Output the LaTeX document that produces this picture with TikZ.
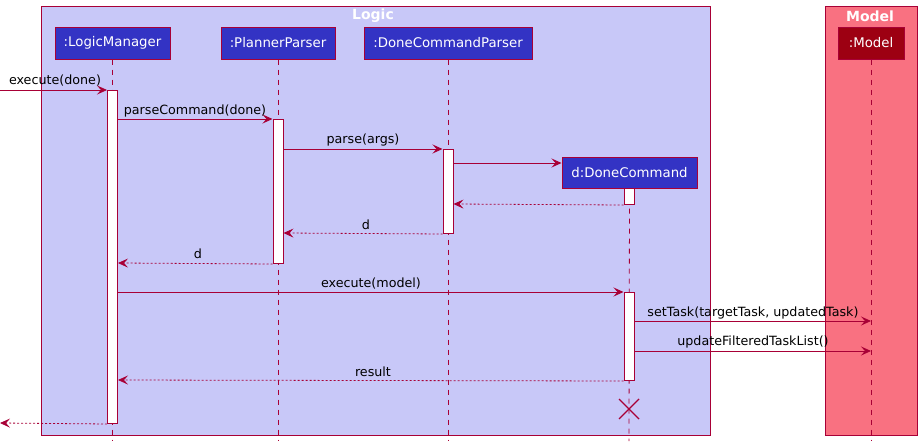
\documentclass[tikz,border=0pt]{standalone}
\usepackage{fontspec}
\setmainfont{DejaVu Sans}
\usetikzlibrary{arrows.meta,calc}
\definecolor{crim}{HTML}{A80036}
\definecolor{logicbg}{HTML}{C8C8F8}
\definecolor{modelbg}{HTML}{F97181}
\definecolor{partblue}{HTML}{3333C4}
\definecolor{partred}{HTML}{9D0012}
\begin{document}
\begin{tikzpicture}[x=1pt,y=-1pt,
  frame/.style={draw=crim, line width=1pt},
  frametitle/.style={text=white, font=\fontsize{14}{16}\selectfont\bfseries, inner sep=0pt},
  part/.style={draw=crim, line width=1pt, fill=partblue, text=white,
    font=\fontsize{13.3}{15}\selectfont, minimum height=32pt, inner sep=0pt},
  lifeline/.style={draw=crim, line width=0.8pt, dash pattern=on 5pt off 5pt},
  act/.style={draw=crim, line width=1pt, fill=white, minimum width=10pt, inner sep=0pt, anchor=north},
  msg/.style={draw=crim, line width=0.8pt, -{Stealth[length=10pt,width=9pt,inset=4pt]}},
  ret/.style={msg, dash pattern=on 2pt off 2pt},
  lbl/.style={font=\fontsize{12.7}{14}\selectfont, text=black, inner sep=0pt}
]
\useasboundingbox (0,0) rectangle (922,447);
% frames
\draw[frame, fill=logicbg] (41,6) rectangle (710,435);
\draw[frame, fill=modelbg] (825,6) rectangle (917,435);
\node[frametitle] (tlogic) at (373,16) {Logic};
\node[frametitle] (tmodel) at (870,16) {Model};
% participants
\node[part, minimum width=115pt] (lm) at (112.5,43) {:LogicManager};
\node[part, minimum width=114pt] (pp) at (278,43) {:PlannerParser};
\node[part, minimum width=168pt] (dcp) at (448,43) {:DoneCommandParser};
\node[part, minimum width=66pt, fill=partred] (mo) at (871,43) {:Model};
% lifeline ends
\coordinate (lmEnd) at (112.5,441);
\coordinate (ppEnd) at (278,441);
\coordinate (dcpEnd) at (448,441);
\coordinate (dcEnd) at (629,441);
\coordinate (moEnd) at (871,441);
\draw[lifeline] (lm.south) -- (lmEnd);
\draw[lifeline] (pp.south) -- (ppEnd);
\draw[lifeline] (dcp.south) -- (dcpEnd);
\draw[lifeline] (mo.south) -- (moEnd);
% created participant
\node[part, minimum width=135pt, minimum height=31pt] (dc) at (629.5,172.5) {d:DoneCommand};
\draw[lifeline] (dc.south) -- (dcEnd);
% activations
\node[act, minimum height=333pt] (alm) at (112.5,90) {};
\node[act, minimum height=144pt] (app) at (278,119) {};
\node[act, minimum height=84pt] (adcp) at (448,149) {};
\node[act, minimum height=16pt] (adc1) at (629,188) {};
\node[act, minimum height=88pt] (adc2) at (629,292) {};
% destroy
\coordinate (xc) at (629,409);
\draw[crim, line width=1.4pt] ($(xc)+(-10,-10)$) -- ($(xc)+(10,10)$);
\draw[crim, line width=1.4pt] ($(xc)+(-10,10)$) -- ($(xc)+(10,-10)$);
% free ends
\coordinate (inStart) at (0,90);
\coordinate (outEnd) at (0,423);
% messages
\draw[msg] (inStart) -- (alm.north west);
\node[lbl] (l1) at (55,81) {execute(done)};
\draw[msg] (alm.east |- 0,119) -- (app.north west);
\node[lbl] (l2) at (195,111) {parseCommand(done)};
\draw[msg] (app.east |- 0,149) -- (adcp.north west);
\node[lbl] (l3) at (363,140) {parse(args)};
\draw[msg] (adcp.east |- 0,163) -- (dc.west |- 0,163);
\draw[ret] (adc1.south west) -- (adcp.east |- 0,204);
\draw[ret] (adcp.south west) -- (app.east |- 0,233);
\node[lbl] (l4) at (366,225) {d};
\draw[ret] (app.south west) -- (alm.east |- 0,263);
\node[lbl] (l5) at (198,254) {d};
\draw[msg] (alm.east |- 0,292) -- (adc2.north west);
\node[lbl] (l6) at (371,284) {execute(model)};
\draw[msg] (adc2.east |- 0,321) -- (mo.south |- 0,321);
\node[lbl] (l7) at (753,313) {setTask(targetTask, updatedTask)};
\draw[msg] (adc2.east |- 0,351) -- (mo.south |- 0,351);
\node[lbl] (l8) at (753,342) {updateFilteredTaskList()};
\draw[ret] (adc2.south west) -- (alm.east |- 0,380);
\node[lbl] (l9) at (373,372) {result};
\draw[ret] (alm.south west) -- (outEnd);
\end{tikzpicture}
\end{document}
